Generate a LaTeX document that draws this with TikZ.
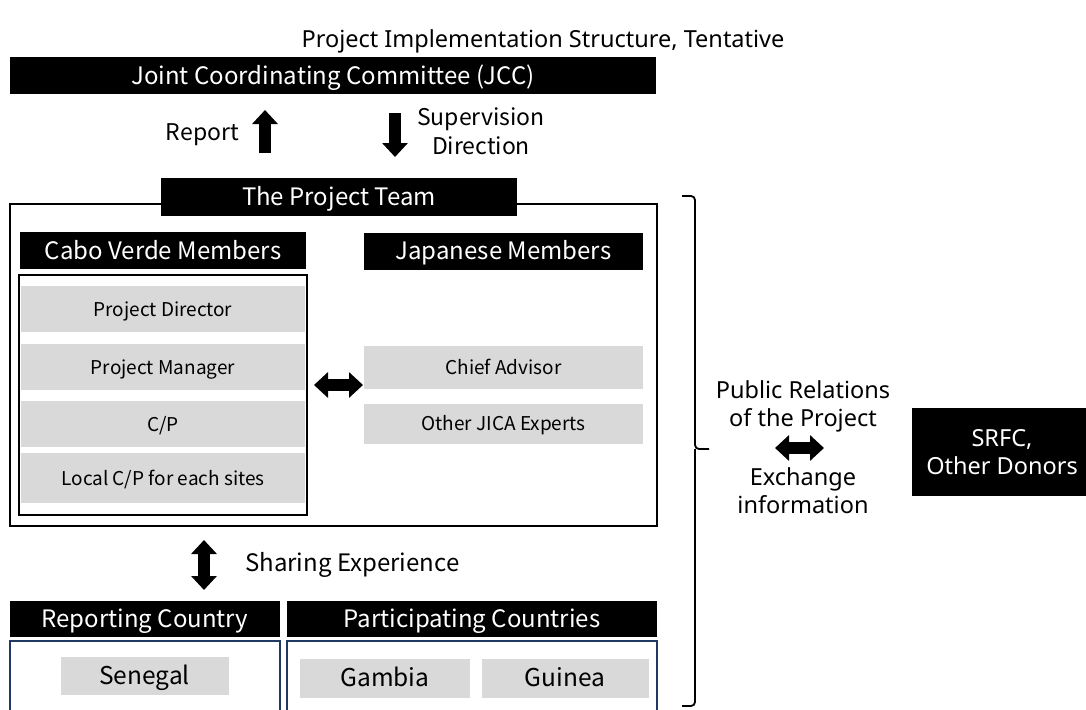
\documentclass[tikz,border=0pt]{standalone}
\usepackage{fontspec}
\setmainfont{Noto Sans CJK JP}
\newfontfamily\widefont{Noto Sans}
\usetikzlibrary{arrows.meta}
\definecolor{memgray}{HTML}{D9D9D9}
\definecolor{navy}{HTML}{203864}
\begin{document}
\begin{tikzpicture}[x=1pt,y=-1pt,
    hdr/.style={fill=black,text=white,inner sep=0pt,minimum height=37pt,text height=20pt,text depth=2.5pt,font=\fontsize{24}{28}\selectfont},
    member/.style={fill=memgray,inner sep=0pt,text height=16pt,text depth=2pt,font=\fontsize{19}{22}\selectfont},
    country/.style={fill=memgray,inner sep=0pt,text height=20.5pt,text depth=2.6pt,font=\fontsize{24.5}{28}\selectfont},
    blk/.style={line width=12pt,-{Triangle[width=25pt,length=14pt]}},
    dblk/.style={line width=12pt,{Triangle[width=25pt,length=14pt]}-{Triangle[width=25pt,length=14pt]}},
    plain/.style={inner sep=0pt,font=\fontsize{23}{29}\selectfont},
    side/.style={inner sep=0pt,align=center,font=\widefont\fontsize{23.5}{28}\selectfont}]
    \useasboundingbox (0,0) rectangle (1086,709);
    \node[font=\widefont\fontsize{23.5}{28}\selectfont] (title) at (543,41) {Project Implementation Structure, Tentative};
    \node[hdr,minimum width=646pt] (jcc) at (333,75.5) {Joint Coordinating Committee (JCC)};
    \node[plain,anchor=east] (rep) at (239,135) {Report};
    \coordinate (up1) at (265,153);
    \coordinate (up2) at (265,110);
    \draw[blk] (up1) -- (up2);
    \coordinate (dn1) at (395,113);
    \coordinate (dn2) at (395,157);
    \draw[blk] (dn1) -- (dn2);
    \node[plain,align=center] (sup) at (481,131) {Supervision\\Direction};
    \node[draw,line width=2pt,minimum width=647pt,minimum height=322pt] (team) at (333.5,365) {};
    \node[hdr,minimum width=356pt,minimum height=38pt] (teamtab) at (339,197) {The Project Team};
    \node[hdr,minimum width=286pt] (cvhdr) at (163,250.5) {Cabo Verde Members};
    \node[hdr,minimum width=279pt] (jphdr) at (503.5,251) {Japanese Members};
    \node[member,minimum width=284pt,minimum height=46pt] (pd) at (163,309) {Project Director};
    \node[member,minimum width=284pt,minimum height=46pt] (pm) at (163,367) {Project Manager};
    \node[member,minimum width=284pt,minimum height=46pt] (cp) at (163,424) {C/P};
    \node[member,minimum width=284pt,minimum height=50pt] (lcp) at (163,478) {Local C/P for each sites};
    \node[draw,line width=2.5pt,minimum width=288pt,minimum height=240pt] (cvbox) at (163,395) {};
    \node[member,minimum width=279pt,minimum height=43pt] (ca) at (503.5,367.5) {Chief Advisor};
    \node[member,minimum width=279pt,minimum height=40pt] (jica) at (503.5,423.5) {Other JICA Experts};
    \coordinate (tm1) at (314,385);
    \coordinate (tm2) at (363,385);
    \draw[dblk] (tm1) -- (tm2);
    \coordinate (sh1) at (204,540);
    \coordinate (sh2) at (204,590);
    \draw[dblk] (sh1) -- (sh2);
    \node[plain,anchor=west,font=\fontsize{24}{28}\selectfont] (share) at (245,565) {Sharing Experience};
    \node[hdr,minimum width=270pt,minimum height=36pt] (rchdr) at (145,618.5) {Reporting Country};
    \node[hdr,minimum width=370pt,minimum height=36pt] (pchdr) at (472,618.5) {Participating Countries};
    \draw[navy,line width=2pt] (10,714) -- (10,641) -- (280,641) -- (280,714);
    \draw[navy,line width=2pt] (287,714) -- (287,641) -- (657,641) -- (657,714);
    \node[country,minimum width=168pt,minimum height=38pt] (sen) at (144.5,676) {Senegal};
    \node[country,minimum width=170pt,minimum height=39pt] (gam) at (385,678) {Gambia};
    \node[country,minimum width=167pt,minimum height=39pt] (gui) at (565,678) {Guinea};
    \draw[line width=1.8pt,rounded corners=4pt] (682,196) -- (695,196) -- (695,449) -- (709,449)
      (695,449) -- (695,706) -- (682,706);
    \node[side] (pr) at (803,406) {Public Relations\\of the Project};
    \coordinate (ex1) at (775,448);
    \coordinate (ex2) at (824,448);
    \draw[dblk] (ex1) -- (ex2);
    \node[side] (ex) at (803,491) {Exchange\\information};
    \node[side,fill=black,text=white,minimum width=180pt,minimum height=88pt] (srfc) at (1002,452) {SRFC,\\Other Donors};
\end{tikzpicture}
\end{document}
